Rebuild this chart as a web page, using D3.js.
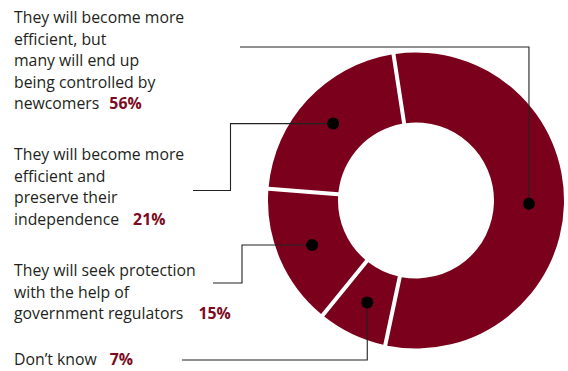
<!DOCTYPE html>
<html>
<head>
<meta charset="utf-8">
<script src="https://cdn.jsdelivr.net/npm/d3@7"></script>
<style>
  body { margin: 0; background: #fff; }
  svg { display: block; }
  .lbl { font-family: "Open Sans", sans-serif; font-size: 15.8px; fill: #231f20; }
  .pct { font-weight: 700; fill: #7b0a22; }
</style>
</head>
<body>
<div id="chart"></div>
<script>
// answers, in legend order (top to bottom)
const labelLines = [
  ['They will become more', 'efficient, but', 'many will end up', 'being controlled by', 'newcomers'],
  ['They will become more', 'efficient and', 'preserve their', 'independence'],
  ['They will seek protection', 'with the help of', 'government regulators'],
  ['Don\u2019t know']
];
const shares = [56, 21, 15, 7];
const pctLabels = ['56%', '21%', '15%', '7%'];

const W = 568, H = 371;
const cx = 416, cy = 200.5;
const outerR = 148, innerR = 78;
const red = '#7b001c';

const svg = d3.select('#chart')
  .append('svg')
  .attr('width', W)
  .attr('height', H);

// slices run counter-clockwise from ~192deg so the big slice sits on the right
const startDeg = 192;
const pie = d3.pie()
  .sort(null)
  .value(d => d)
  .startAngle(startDeg * Math.PI / 180)
  .endAngle(startDeg * Math.PI / 180 - 2 * Math.PI)
  .padAngle(0.04);

const arc = d3.arc()
  .innerRadius(innerR)
  .outerRadius(outerR)
  .padRadius(100);

const arcs = pie(shares);

const g = svg.append('g').attr('transform', `translate(${cx},${cy})`);

g.selectAll('path.slice')
  .data(arcs)
  .enter()
  .append('path')
  .attr('class', 'slice')
  .attr('d', arc)
  .attr('fill', red);

// text blocks: first baseline + line spacing
const blockTop = [23, 160, 276, 365];
const lineH = 21.5;
const pctGap = [10, 14, 15, 13];

const texts = svg.selectAll('text.lbl')
  .data(labelLines)
  .enter()
  .append('text')
  .attr('class', 'lbl')
  .attr('x', 14)
  .attr('y', (d, i) => blockTop[i]);

texts.each(function(lines, i) {
  const t = d3.select(this);
  lines.forEach((line, j) => {
    t.append('tspan')
      .attr('x', 14)
      .attr('y', blockTop[i] + j * lineH)
      .text(line);
  });
  t.append('tspan')
    .attr('class', 'pct')
    .attr('dx', pctGap[i])
    .text(pctLabels[i]);
});

// leader lines: start point, elbow x (null = straight over to the dot column)
const leadStart = [[240, 47], [193, 190.5], [213, 283], [182, 360]];
const leadElbow = [null, 230.5, 242, null];

const dots = arcs.map(a => {
  const c = arc.centroid(a);
  return [cx + c[0], cy + c[1]];
});

const line = d3.line();
dots.forEach((p, i) => {
  const s = leadStart[i];
  let pts;
  if (leadElbow[i] == null) {
    pts = [s, [p[0], s[1]], p];
  } else {
    pts = [s, [leadElbow[i], s[1]], [leadElbow[i], p[1]], p];
  }
  svg.append('path')
    .attr('d', line(pts))
    .attr('fill', 'none')
    .attr('stroke', '#222')
    .attr('stroke-width', 1.1);
});

svg.selectAll('circle.dot')
  .data(dots)
  .enter()
  .append('circle')
  .attr('class', 'dot')
  .attr('cx', d => d[0])
  .attr('cy', d => d[1])
  .attr('r', 6)
  .attr('fill', '#000');
</script>
</body>
</html>
